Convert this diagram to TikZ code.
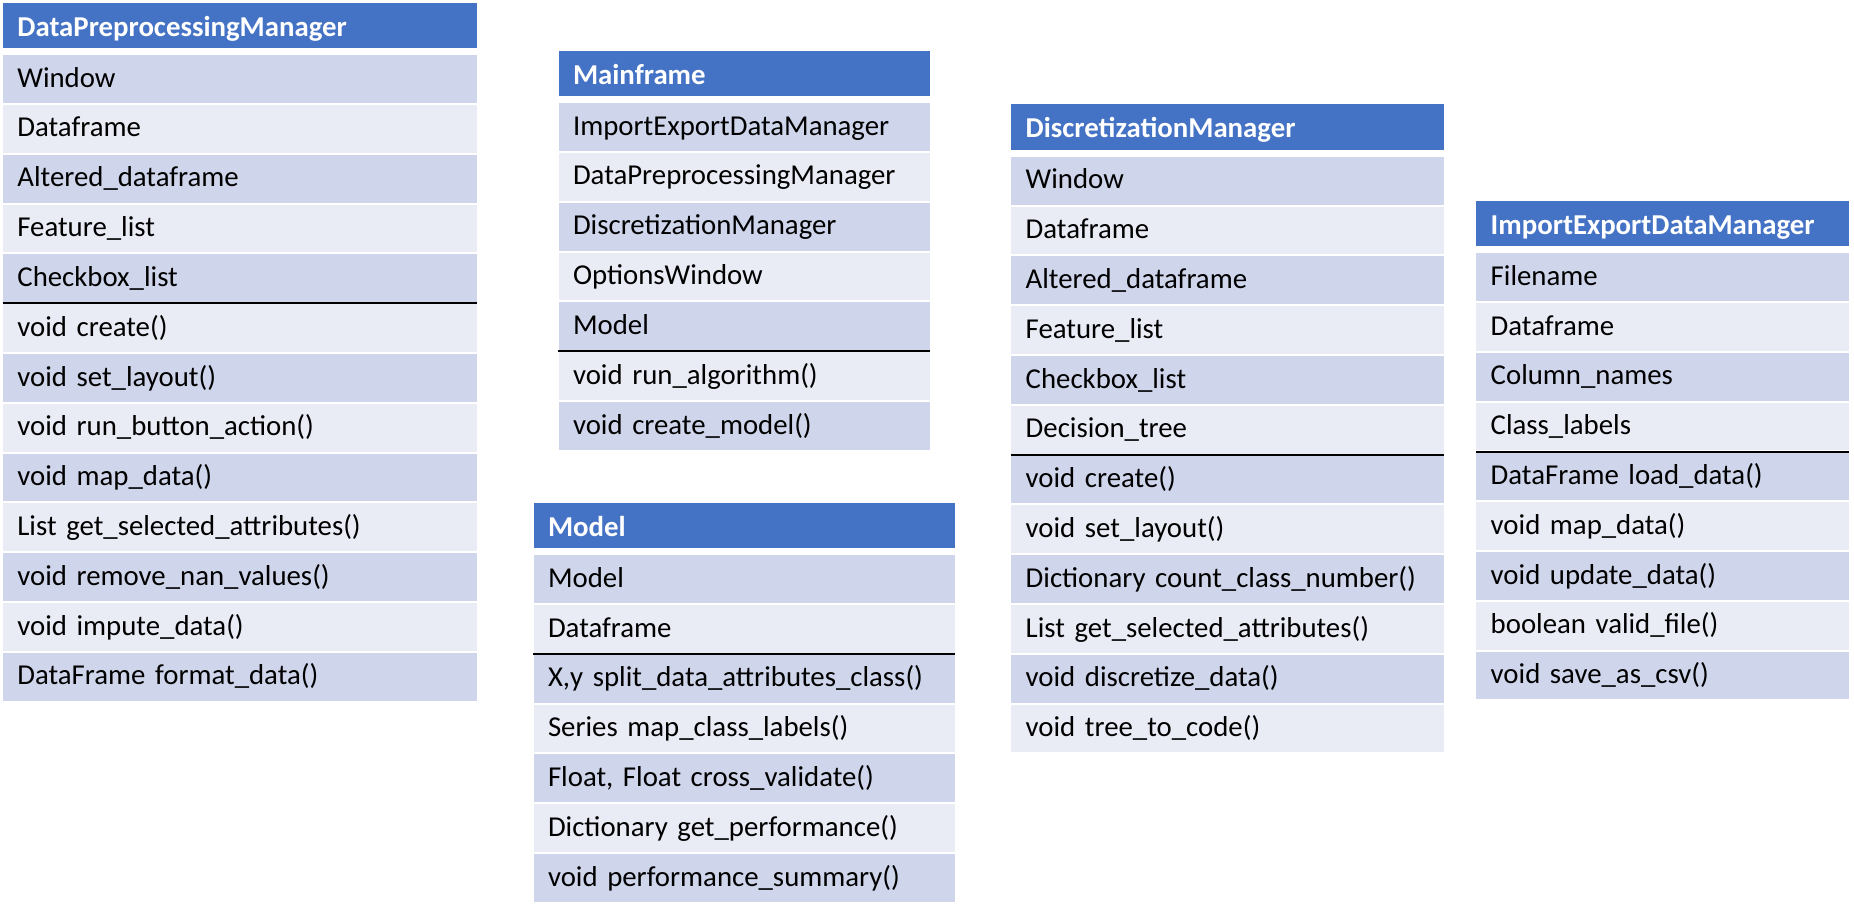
\documentclass[tikz,border=0pt]{standalone}
\usepackage{fontspec}
\setmainfont{Carlito}
\definecolor{hdrblue}{HTML}{4472C4}
\definecolor{rowA}{HTML}{CFD5EA}
\definecolor{rowB}{HTML}{E9EBF5}
\tikzset{
  cell/.style={rectangle, inner ysep=0pt, inner xsep=14.5pt, anchor=north west,
    align=left, font=\fontsize{28.8}{34}\selectfont},
  hdr/.style={cell, fill=hdrblue, text=white, minimum height=45.5pt,
    text height=23pt, text depth=1.5pt, font=\fontsize{28.8}{34}\selectfont\bfseries},
  rowcell/.style={cell, text=black, minimum height=47.8pt,
    text height=21pt, text depth=4.8pt},
  sepline/.style={draw=black, line width=2pt}
}
% #1 name, #2 x1, #3 x2, #4 top, #5 title, #6 attributes, #7 methods, #8 number of attributes
\newcommand\umlbox[8]{%
  \pgfmathsetmacro\bw{#3-#2}%
  \pgfmathsetmacro\tw{#3-#2-29}%
  \node[hdr, minimum width=\bw pt, text width=\tw pt] (#1-h) at (#2,#4) {#5};
  \foreach \t [count=\k from 0] in {#6} {
    \pgfmathsetmacro\yy{#4+52.3+\k*49.8}
    \pgfmathtruncatemacro\odd{mod(\k,2)}
    \ifnum\odd=0 \def\rc{rowA}\else\def\rc{rowB}\fi
    \node[rowcell, fill=\rc, minimum width=\bw pt, text width=\tw pt] (#1-a\k) at (#2,\yy) {\t};
  }
  \foreach \t [count=\k from #8] in {#7} {
    \pgfmathsetmacro\yy{#4+52.3+\k*49.8}
    \pgfmathtruncatemacro\odd{mod(\k,2)}
    \ifnum\odd=0 \def\rc{rowA}\else\def\rc{rowB}\fi
    \node[rowcell, fill=\rc, minimum width=\bw pt, text width=\tw pt] (#1-m\k) at (#2,\yy) {\t};
  }
  \pgfmathtruncatemacro\la{#8-1}%
  \draw[sepline] ([yshift=-1pt]#1-a\la.south west) -- ([yshift=-1pt]#1-a\la.south east);
}
\begin{document}
\begin{tikzpicture}[x=1pt,y=-1pt]
\useasboundingbox[fill=white] (0,0) rectangle (1854,912);

\umlbox{dpm}{2.7}{477}{2.7}{DataPreprocessingManager}
  {Window, Dataframe, Altered\_dataframe, Feature\_list, Checkbox\_list}
  {void create(), void set\_layout(), void run\_button\_action(), void map\_data(),
   List get\_selected\_attributes(), void remove\_nan\_values(), void impute\_data(),
   DataFrame format\_data()}{5}

\umlbox{mf}{558.3}{930}{50.7}{Mainframe}
  {ImportExportDataManager, DataPreprocessingManager, DiscretizationManager, OptionsWindow, Model}
  {void run\_algorithm(), void create\_model()}{5}

\umlbox{mdl}{533.3}{955}{502.7}{Model}
  {Model, Dataframe}
  {{X,y split\_data\_attributes\_class()}, Series map\_class\_labels(),
   {Float, Float cross\_validate()}, Dictionary get\_performance(),
   void performance\_summary()}{2}

\umlbox{dm}{1011}{1444}{104.3}{DiscretizationManager}
  {Window, Dataframe, Altered\_dataframe, Feature\_list, Checkbox\_list, Decision\_tree}
  {void create(), void set\_layout(), Dictionary count\_class\_number(),
   List get\_selected\_attributes(), void discretize\_data(), void tree\_to\_code()}{6}

\umlbox{iedm}{1476}{1848.3}{200.7}{ImportExportDataManager}
  {Filename, Dataframe, Column\_names, Class\_labels}
  {DataFrame load\_data(), void map\_data(), void update\_data(), boolean valid\_file(),
   void save\_as\_csv()}{4}
\end{tikzpicture}
\end{document}
